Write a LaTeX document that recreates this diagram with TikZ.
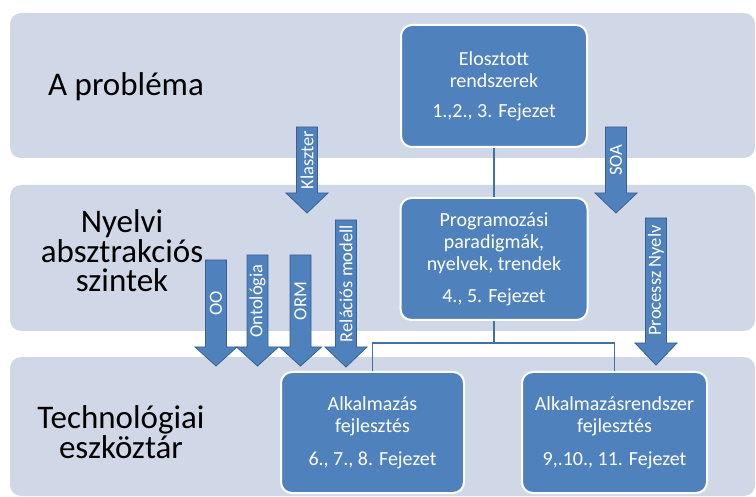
\documentclass[tikz,border=0pt]{standalone}
\usepackage{fontspec}
\setmainfont{Carlito}
\definecolor{bandfill}{RGB}{208,216,232}
\definecolor{boxblue}{RGB}{79,129,189}
\definecolor{arrowedge}{RGB}{56,96,146}
\definecolor{linkblue}{RGB}{65,113,170}

% block arrow pointing down: name, centre x, top, head base, tip, label
\newcommand\blockarrow[6]{%
  \draw[arrowbody] ({#2-10.5},#3) -- ({#2+10.5},#3) -- ({#2+10.5},#4)
    -- ({#2+21},#4) -- (#2,#5) -- ({#2-21},#4) -- ({#2-10.5},#4) -- cycle;
  \node[arrowlabel] (#1) at (#2,{(#3+#4)/2}) {#6};}

\begin{document}
\begin{tikzpicture}[x=1pt,y=-1pt,
  band/.style={fill=bandfill, rounded corners=11pt},
  bandlabel/.style={font=\fontsize{33}{29.5}\selectfont, align=center, inner sep=0pt, text=black},
  topicbox/.style={fill=boxblue, draw=white, line width=2pt, rounded corners=11pt,
    text=white, align=center, inner sep=0pt,
    font=\fontsize{20}{22}\selectfont},
  link/.style={draw=linkblue, line width=1.4pt},
  arrowbody/.style={fill=boxblue, draw=arrowedge, line width=0.8pt, line join=miter},
  arrowlabel/.style={rotate=90, text=white, inner sep=0pt,
    font=\fontsize{18.5}{20}\selectfont}
]
\useasboundingbox (0,0) rectangle (756,497);

% three horizontal layers
\fill[band] (10,13) rectangle (755,158);
\fill[band] (10,185) rectangle (755,331);
\fill[band] (10,357) rectangle (755,496);

% layer titles (base anchor sits on the last line)
\node[bandlabel, anchor=base] (l1) at (126,96) {A probléma};
\node[bandlabel, anchor=base] (l2) at (122,292) {Nyelvi\\absztrakciós\\szintek};
\node[bandlabel, anchor=base] (l3) at (121,458) {Technológiai\\eszköztár};

% topic boxes
\node[topicbox, minimum width=186pt, minimum height=122pt] (b1) at (494,86)
  {Elosztott\\rendszerek\\[8pt]1.,2., 3. Fejezet};
\node[topicbox, minimum width=187pt, minimum height=122pt] (b2) at (494,259)
  {Programozási\\paradigmák,\\nyelvek, trendek\\[10pt]4., 5. Fejezet};
\node[topicbox, minimum width=183pt, minimum height=121pt] (b3) at (372.5,432.5)
  {Alkalmazás\\fejlesztés\\[11pt]6., 7., 8. Fejezet};
\node[topicbox, minimum width=185pt, minimum height=121pt] (b4) at (614.5,432.5)
  {Alkalmazásrendszer\\fejlesztés\\[11pt]9,.10., 11. Fejezet};

% tree connectors
\coordinate (split) at (494,343);
\draw[link] (b1.south) -- (b2.north);
\draw[link] (b2.south) -- (split) -| (b3.north);
\draw[link] (split) -| (b4.north);

% block arrows
\blockarrow{klaszter}{307}{127}{193}{213}{Klaszter}
\blockarrow{soa}{616}{127}{193}{213}{SOA}
\blockarrow{oo}{216}{260}{347}{366}{OO}
\blockarrow{onto}{257.5}{255}{347}{366}{Ontológia}
\blockarrow{orm}{300.5}{255}{347}{366}{ORM}
\blockarrow{relacios}{346}{220}{347}{367}{Relációs modell}
\blockarrow{processz}{656}{218}{343}{365}{Processz Nyelv}
\end{tikzpicture}
\end{document}
